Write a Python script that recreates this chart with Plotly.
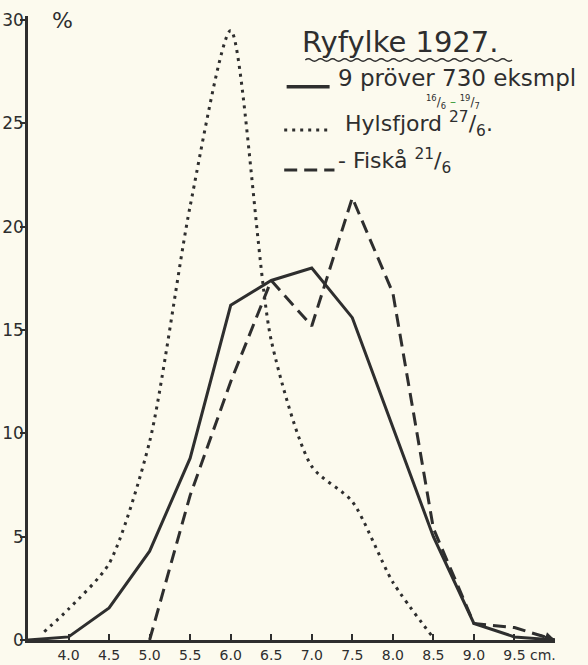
import plotly.graph_objects as go

# lengths (cm) and share of catch (%)
x_total = [3.5, 4.0, 4.5, 5.0, 5.5, 6.0, 6.5, 7.0, 7.5, 8.0, 8.5, 9.0, 9.5, 10.0]
y_total = [0, 0.15, 1.55, 4.3, 8.8, 16.2, 17.4, 18.0, 15.6, 10.3, 5.0, 0.8, 0.15, 0]

x_hyls = [3.7, 4.0, 4.5, 5.0, 5.5, 6.0, 6.5, 7.0, 7.5, 8.0, 8.5]
y_hyls = [0.4, 1.5, 3.7, 9.6, 21.0, 29.5, 14.5, 8.4, 6.7, 2.8, 0.1]

x_fiska = [5.0, 5.5, 6.0, 6.5, 7.0, 7.5, 8.0, 8.5, 9.0, 9.5, 10.0]
y_fiska = [0, 7.0, 12.5, 17.4, 15.2, 21.4, 16.8, 5.4, 0.8, 0.6, 0]

x_ticks = [4.0, 4.5, 5.0, 5.5, 6.0, 6.5, 7.0, 7.5, 8.0, 8.5, 9.0, 9.5]
y_ticks = [0, 5, 10, 15, 20, 25, 30]

ink = "#2e2e2e"
paper = "#fcfaee"
font = "DejaVu Sans"

fig = go.Figure()
fig.add_trace(go.Scatter(x=x_hyls, y=y_hyls, mode="lines", line_shape="spline",
                         line=dict(color=ink, width=3, dash="3px,5px", smoothing=0.7)))
fig.add_trace(go.Scatter(x=x_fiska, y=y_fiska, mode="lines",
                         line=dict(color=ink, width=3, dash="13px,7px")))
fig.add_trace(go.Scatter(x=x_total, y=y_total, mode="lines",
                         line=dict(color=ink, width=3)))

# hand-drawn style legend
shapes = [
    dict(type="line", xref="x", yref="y", x0=6.69, x1=7.22, y0=26.77, y1=26.77,
         line=dict(color=ink, width=3.5)),
    dict(type="line", xref="x", yref="y", x0=6.66, x1=7.22, y0=24.68, y1=24.68,
         line=dict(color=ink, width=3, dash="3px,5px")),
    dict(type="line", xref="x", yref="y", x0=6.66, x1=7.28, y0=22.75, y1=22.75,
         line=dict(color=ink, width=3, dash="13px,7px")),
]
# wavy underline under the title
wave = "M 6.92,28.07"
xw = 6.92
up = True
while xw < 9.45:
    xw += 0.075
    wave += f" Q {xw - 0.0375:.4f},{28.07 + (0.12 if up else -0.12):.3f} {xw:.4f},28.07"
    up = not up
shapes.append(dict(type="path", xref="x", yref="y", path=wave, line=dict(color=ink, width=1.5)))

annotations = [
    dict(x=6.85, y=28.95, text="Ryfylke 1927.", font=dict(size=29)),
    dict(x=7.3, y=27.2, text="9 pröver 730 eksmpl", font=dict(size=23)),
    dict(x=8.38, y=26.05, text="<sup>16</sup>/<sub>6</sub> <span style='color:#3a9a3a'>–</span> <sup>19</sup>/<sub>7</sub>",
         font=dict(size=12)),
    dict(x=7.38, y=24.95, text="Hylsfjord <sup>27</sup>/<sub>6</sub>.", font=dict(size=22)),
    dict(x=7.3, y=23.2, text="- Fiskå <sup>21</sup>/<sub>6</sub>", font=dict(size=22)),
    dict(x=3.77, y=30, text="%", font=dict(size=22)),
    dict(x=9.67, y=0, yshift=-15, text="cm.", font=dict(size=14)),
]
for a in annotations:
    a.update(xref="x", yref="y", xanchor="left", showarrow=False)
    a["font"].update(family=font, color=ink)
annotations.append(dict(x=10.0, y=0, ax=9.8, ay=0.25, axref="x", ayref="y", xref="x", yref="y",
                        text="", showarrow=True, arrowhead=2, arrowwidth=2, arrowcolor=ink))

fig.update_layout(
    width=588, height=665,
    margin=dict(l=28, r=33, t=16, b=25),
    paper_bgcolor=paper, plot_bgcolor=paper,
    showlegend=False,
    font=dict(family=font, color=ink),
    shapes=shapes,
    annotations=annotations,
    xaxis=dict(range=[3.5, 10.0], tickvals=x_ticks, ticktext=[f"{v:.1f}" for v in x_ticks],
               ticks="inside", ticklen=6, tickwidth=1.5, tickcolor=ink, automargin=False,
               showline=True, linecolor=ink, linewidth=2.5, showgrid=False, zeroline=False,
               tickfont=dict(size=14, color=ink)),
    yaxis=dict(range=[0, 30.2], tickvals=y_ticks, ticks="outside", ticklen=5, tickwidth=1.5,
               tickcolor=ink, showline=True, linecolor=ink, linewidth=2.5, showgrid=False,
               zeroline=False, automargin=False, ticklabelstandoff=-7,
               tickfont=dict(size=17, color=ink)),
)

# drop the page's default body margin so the figure sits at the window's corner
fig.write_html("out.html", config={"displayModeBar": False},
               post_script="document.body.style.margin='0';")
